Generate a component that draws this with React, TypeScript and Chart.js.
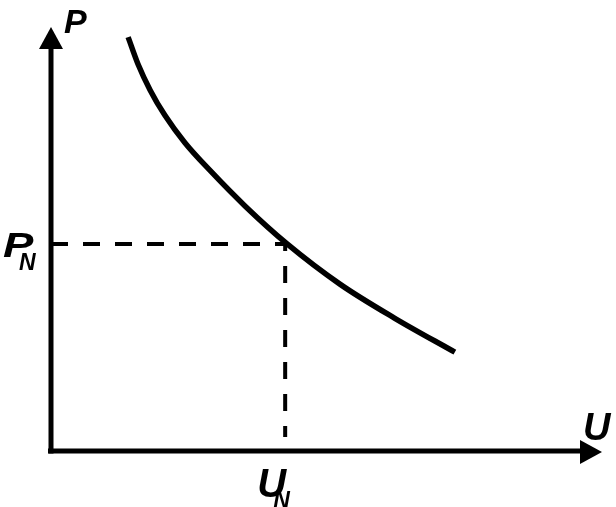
import React, { useEffect, useRef } from "react";
import { Chart, registerables } from "chart.js";

Chart.register(...registerables);

// Curve values (U, P), axes from 0 to 100
const curveU = [14.0, 15.8, 18.0, 20.7, 24.3, 28.9, 35.2, 42.8, 52.5, 62.4, 73.3];
const curveP = [97.6, 91.2, 85.1, 79.1, 72.7, 66.1, 57.8, 48.9, 39.3, 31.3, 23.3];

// Rated point
const ratedU = 42.5;
const ratedP = 48.8;
const dashEndP = 3.3;

// Axis extents
const axisMin = 0;
const axisMax = 100;

// Texts
const axisLabelX = "U";
const axisLabelY = "P";
const ratedLabelX = "U";
const ratedLabelY = "P";
const subscript = "N";

const FONT = '"Liberation Sans", Arial, sans-serif';

const labelPlugin = {
  id: "axesAndLabels",
  afterDraw(chart: any) {
    const ctx = chart.ctx as CanvasRenderingContext2D;
    const xs = chart.scales.x;
    const ys = chart.scales.y;
    const x0 = xs.getPixelForValue(axisMin);
    const xR = xs.getPixelForValue(axisMax);
    const y0 = ys.getPixelForValue(axisMin);
    const yT = ys.getPixelForValue(axisMax);
    const xN = xs.getPixelForValue(ratedU);
    const yN = ys.getPixelForValue(ratedP);

    ctx.save();
    ctx.strokeStyle = "#000";
    ctx.fillStyle = "#000";
    ctx.lineWidth = 5;
    ctx.lineCap = "butt";
    // y axis
    ctx.beginPath();
    ctx.moveTo(x0, y0 + 2.5);
    ctx.lineTo(x0, yT + 18);
    ctx.stroke();
    ctx.beginPath();
    ctx.moveTo(x0, yT);
    ctx.lineTo(x0 - 12, yT + 22);
    ctx.lineTo(x0 + 12, yT + 22);
    ctx.closePath();
    ctx.fill();
    // x axis
    ctx.beginPath();
    ctx.moveTo(x0 - 3, y0);
    ctx.lineTo(xR - 18, y0);
    ctx.stroke();
    ctx.beginPath();
    ctx.moveTo(xR, y0 + 1);
    ctx.lineTo(xR - 22, y0 - 11);
    ctx.lineTo(xR - 22, y0 + 13);
    ctx.closePath();
    ctx.fill();

    // labels
    ctx.textAlign = "left";
    ctx.textBaseline = "alphabetic";
    ctx.font = `italic bold 34px ${FONT}`;
    ctx.fillText(axisLabelY, x0 + 13, yT + 6);
    ctx.font = `italic bold 38px ${FONT}`;
    ctx.fillText(axisLabelX, xR - 19, y0 - 11);

    ctx.save();
    ctx.translate(3, yN + 13);
    ctx.scale(1.3, 1);
    ctx.font = `italic bold 35px ${FONT}`;
    ctx.fillText(ratedLabelY, 0, 0);
    ctx.restore();
    ctx.font = `italic bold 23px ${FONT}`;
    ctx.fillText(subscript, 19, yN + 26);

    ctx.font = `italic bold 40px ${FONT}`;
    ctx.fillText(ratedLabelX, xN - 28, y0 + 46);
    ctx.font = `italic bold 23px ${FONT}`;
    ctx.fillText(subscript, xN - 12, y0 + 57);
    ctx.restore();
  },
};

export default function App() {
  const ref = useRef<HTMLCanvasElement | null>(null);
  useEffect(() => {
    document.body.style.margin = "0";
    const canvas = ref.current;
    if (!canvas) return;
    const chart = new Chart(canvas, {
      type: "scatter",
      data: {
        datasets: [
          {
            data: [
              { x: axisMin, y: ratedP },
              { x: ratedU, y: ratedP },
              { x: ratedU, y: dashEndP },
            ],
            showLine: true,
            borderColor: "#000",
            borderWidth: 4,
            borderDash: [17, 15],
            pointRadius: 0,
            tension: 0,
            clip: false as any,
          },
          {
            data: curveU.map((u, i) => ({ x: u, y: curveP[i] })),
            showLine: true,
            borderColor: "#000",
            borderWidth: 5.5,
            pointRadius: 0,
            cubicInterpolationMode: "monotone",
            borderCapStyle: "butt",
            clip: false as any,
          },
        ],
      },
      options: {
        animation: false,
        responsive: false,
        devicePixelRatio: 1,
        layout: { padding: { left: 51, right: 14, top: 27, bottom: 56 } },
        plugins: { legend: { display: false }, tooltip: { enabled: false } },
        scales: {
          x: { type: "linear", min: axisMin, max: axisMax, display: false },
          y: { type: "linear", min: axisMin, max: axisMax, display: false },
        },
      },
      plugins: [labelPlugin],
    });
    return () => chart.destroy();
  }, []);
  return (
    <div style={{ width: 616, height: 507, background: "#fff" }}>
      <canvas ref={ref} width={616} height={507} />
    </div>
  );
}
